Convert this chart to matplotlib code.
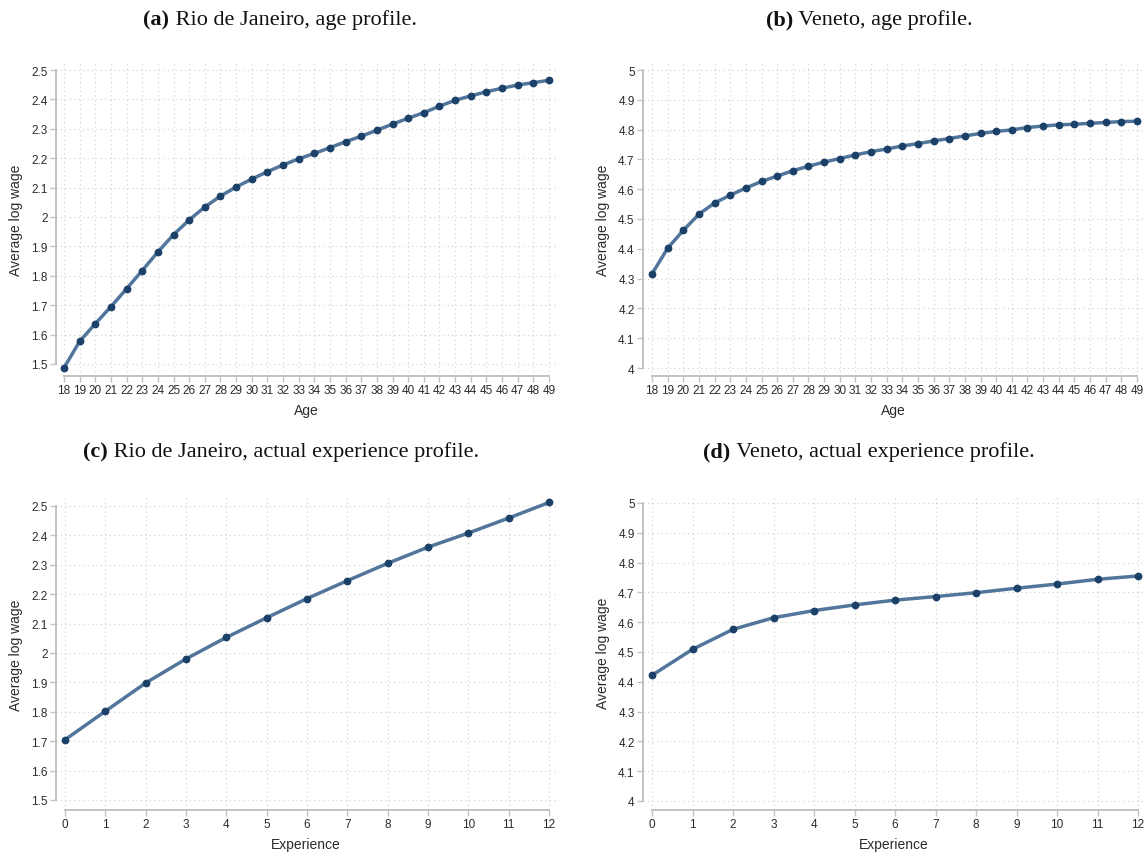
import numpy as np
import matplotlib
matplotlib.use('Agg')
import matplotlib.pyplot as plt

# Average log wage profiles
ages = list(range(18, 50))
rio_age = [1.487, 1.577, 1.637, 1.695, 1.756, 1.818, 1.881, 1.940, 1.990, 2.034,
           2.071, 2.102, 2.129, 2.154, 2.177, 2.198, 2.216, 2.236, 2.256, 2.275,
           2.295, 2.316, 2.336, 2.355, 2.377, 2.397, 2.412, 2.426, 2.438, 2.449,
           2.457, 2.465]
veneto_age = [4.316, 4.402, 4.462, 4.516, 4.554, 4.580, 4.604, 4.626, 4.644, 4.662,
              4.677, 4.691, 4.703, 4.715, 4.726, 4.735, 4.745, 4.753, 4.762, 4.770,
              4.779, 4.787, 4.794, 4.799, 4.807, 4.812, 4.816, 4.818, 4.821, 4.824,
              4.827, 4.828]
exper = list(range(0, 13))
rio_exp = [1.705, 1.802, 1.898, 1.980, 2.053, 2.120, 2.185, 2.246, 2.305, 2.360,
           2.408, 2.459, 2.512]
veneto_exp = [4.422, 4.509, 4.576, 4.615, 4.639, 4.658, 4.674, 4.686, 4.699, 4.714,
              4.728, 4.744, 4.755]

rio_yticks = [1.5, 1.6, 1.7, 1.8, 1.9, 2.0, 2.1, 2.2, 2.3, 2.4, 2.5]
rio_ylabels = ['1.5', '1.6', '1.7', '1.8', '1.9', '2', '2.1', '2.2', '2.3', '2.4', '2.5']
ven_yticks = [4.0, 4.1, 4.2, 4.3, 4.4, 4.5, 4.6, 4.7, 4.8, 4.9, 5.0]
ven_ylabels = ['4', '4.1', '4.2', '4.3', '4.4', '4.5', '4.6', '4.7', '4.8', '4.9', '5']

W, H = 1148, 853
fig = plt.figure(figsize=(W / 100, H / 100), dpi=100)

line_col = '#52769b'
mark_col = '#1b4169'
axis_col = '#c2c2c2'
text_col = '#2b2b2b'
sans = ['Liberation Sans', 'DejaVu Sans']
serif = ['Liberation Serif', 'DejaVu Serif']


def panel(yaxis_px, x0_px, x1_px, ytop_px, ybot_px, xaxis_px, xs, ys, yt, ylab, xlab):
    # place axes so that data positions land on the reference pixels
    left, right = yaxis_px, x1_px + 7
    top, bottom = ytop_px - 8, xaxis_px
    ax = fig.add_axes([left / W, 1 - bottom / H, (right - left) / W, (bottom - top) / H])
    xs0, xs1 = xs[0], xs[-1]
    dx = (xs1 - xs0) / (x1_px - x0_px)
    ax.set_xlim(xs0 - (x0_px - left) * dx, xs1 + (right - x1_px) * dx)
    y0, y1 = yt[0], yt[-1]
    dy = (y1 - y0) / (ybot_px - ytop_px)
    ax.set_ylim(y0 - (bottom - ybot_px) * dy, y1 + (ytop_px - top) * dy)

    ax.plot(xs, ys, color=line_col, lw=2.5, zorder=3, solid_capstyle='round')
    ax.plot(xs, ys, 'o', color=mark_col, ms=4.6, zorder=4)

    for s in ['top', 'right']:
        ax.spines[s].set_visible(False)
    ax.spines['left'].set_bounds(y0, y1)
    ax.spines['bottom'].set_bounds(xs0, xs1)
    for s in ['left', 'bottom']:
        ax.spines[s].set_color(axis_col)
        ax.spines[s].set_linewidth(1.4)
    ax.set_xticks(xs)
    ax.set_yticks(yt)
    ax.set_yticklabels(ylab)
    ax.tick_params(colors=axis_col, labelcolor=text_col, labelsize=8.5, length=4, width=1, pad=2)
    for lab in ax.get_xticklabels() + ax.get_yticklabels():
        lab.set_family(sans)
    ax.grid(True, ls=(0, (1, 3)), color='#cfcfcf', lw=0.8)
    ax.set_axisbelow(True)
    ax.set_xlabel(xlab, fontsize=10, color=text_col, family=sans, labelpad=5)
    ax.set_ylabel('Average log wage', fontsize=10, color=text_col, family=sans, labelpad=6)
    return ax


panel(56, 64, 549, 71, 365, 377, ages, rio_age, rio_yticks, rio_ylabels, 'Age')
panel(643, 652, 1137, 71, 369, 377, ages, veneto_age, ven_yticks, ven_ylabels, 'Age')
panel(56, 65, 549, 507, 801, 811, exper, rio_exp, rio_yticks, rio_ylabels, 'Experience')
panel(643, 652, 1138, 504, 802, 811, exper, veneto_exp, ven_yticks, ven_ylabels, 'Experience')

# subcaptions: bold tag followed by plain text, centred as a whole
titles = [(280, 20, '(a)', 'Rio de Janeiro, age profile.'),
          (869, 20, '(b)', 'Veneto, age profile.'),
          (281, 452, '(c)', 'Rio de Janeiro, actual experience profile.'),
          (869, 452, '(d)', 'Veneto, actual experience profile.')]
renderer = fig.canvas.get_renderer()
for cx, cy, tag, txt in titles:
    t1 = fig.text(0, 0, tag, fontsize=16, family=serif, weight='bold', color='#111111', va='center')
    t2 = fig.text(0, 0, ' ' + txt, fontsize=16, family=serif, color='#111111', va='center')
    w1 = t1.get_window_extent(renderer).width
    w2 = t2.get_window_extent(renderer).width
    x0 = cx - (w1 + w2) / 2
    t1.set_position((x0 / W, 1 - cy / H))
    t2.set_position(((x0 + w1) / W, 1 - cy / H))

fig.savefig('out.png', dpi=100)
